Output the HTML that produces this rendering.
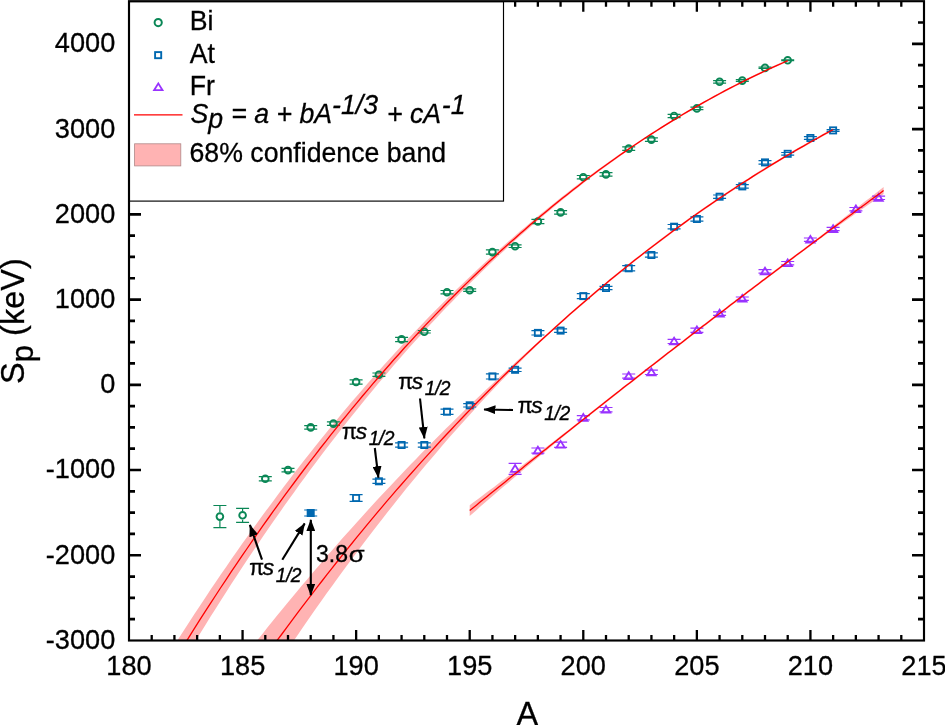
<!DOCTYPE html>
<html><head><meta charset="utf-8"><title>Sp vs A</title>
<style>html,body{margin:0;padding:0;background:#fff}svg{display:block}</style></head>
<body>
<svg width="945" height="725" viewBox="0 0 945 725" font-family="'Liberation Sans', sans-serif">
<rect width="945" height="725" fill="#fff"/>
<defs><clipPath id="pc"><rect x="129.0" y="1.2" width="795.0" height="639.3"/></clipPath>
<marker id="ah" viewBox="0 0 12 9" refX="11.5" refY="4.5" markerWidth="12" markerHeight="9" markerUnits="userSpaceOnUse" orient="auto-start-reverse"><path d="M0,0 L12,4.5 L0,9 Z" fill="#000"/></marker>
</defs>
<g clip-path="url(#pc)">
<polygon points="163.1,663.1 168.3,654.8 173.6,646.4 178.8,638.2 184.1,630.0 189.3,621.9 194.6,613.8 199.8,605.9 205.1,597.9 210.3,590.1 215.6,582.3 220.8,574.6 226.1,566.9 231.3,559.3 236.6,551.8 241.8,544.3 247.1,536.9 252.3,529.6 257.6,522.3 262.8,515.1 268.1,507.9 273.3,500.9 278.6,493.8 283.8,486.8 289.0,479.9 294.3,473.1 299.5,466.3 304.8,459.6 310.0,452.9 315.3,446.3 320.5,439.7 325.8,433.2 331.0,426.8 336.3,420.4 341.5,414.1 346.8,407.8 352.0,401.6 357.3,395.5 362.5,389.4 367.8,383.3 373.0,377.4 378.3,371.4 383.5,365.6 388.8,359.7 394.0,354.0 399.3,348.3 404.5,342.6 409.8,337.0 415.0,331.5 420.3,326.0 425.5,320.5 430.8,315.1 436.0,309.8 441.3,304.5 446.5,299.3 451.8,294.1 457.0,289.0 462.3,283.9 467.5,278.9 472.8,273.9 478.0,269.0 483.3,264.1 488.5,259.3 493.8,254.5 499.0,249.8 504.3,245.1 509.5,240.5 514.8,235.9 520.0,231.3 525.3,226.9 530.5,222.4 535.8,218.0 541.0,213.7 546.3,209.4 551.5,205.2 556.8,201.0 562.0,196.8 567.3,192.7 572.5,188.6 577.8,184.6 583.0,180.6 588.2,176.7 593.5,172.8 598.7,169.0 604.0,165.2 609.2,161.5 614.5,157.8 619.7,154.1 625.0,150.5 630.2,146.9 635.5,143.4 640.7,139.9 646.0,136.5 651.2,133.0 656.5,129.7 661.7,126.4 667.0,123.1 672.2,119.9 677.5,116.7 682.7,113.5 688.0,110.4 693.2,107.4 698.5,104.4 703.7,101.4 709.0,98.5 714.2,95.6 719.5,92.7 724.7,89.9 730.0,87.2 735.2,84.5 740.5,81.8 745.7,79.2 751.0,76.6 756.2,74.1 761.5,71.6 766.7,69.1 772.0,66.7 777.2,64.3 782.5,62.0 787.7,59.7 787.7,61.7 782.5,64.0 777.2,66.3 772.0,68.7 766.7,71.1 761.5,73.6 756.2,76.1 751.0,78.6 745.7,81.2 740.5,83.8 735.2,86.5 730.0,89.2 724.7,91.9 719.5,94.7 714.2,97.6 709.0,100.5 703.7,103.4 698.5,106.4 693.2,109.4 688.0,112.4 682.7,115.5 677.5,118.7 672.2,121.9 667.0,125.1 661.7,128.4 656.5,131.7 651.2,135.1 646.0,138.5 640.7,142.0 635.5,145.6 630.2,149.1 625.0,152.8 619.7,156.4 614.5,160.2 609.2,163.9 604.0,167.8 598.7,171.7 593.5,175.6 588.2,179.6 583.0,183.6 577.8,187.7 572.5,191.8 567.3,196.0 562.0,200.3 556.8,204.6 551.5,208.9 546.3,213.3 541.0,217.8 535.8,222.3 530.5,226.8 525.3,231.4 520.0,236.1 514.8,240.8 509.5,245.6 504.3,250.4 499.0,255.3 493.8,260.3 488.5,265.3 483.3,270.3 478.0,275.4 472.8,280.6 467.5,285.8 462.3,291.1 457.0,296.5 451.8,301.9 446.5,307.3 441.3,312.8 436.0,318.4 430.8,324.0 425.5,329.7 420.3,335.5 415.0,341.3 409.8,347.1 404.5,353.1 399.3,359.1 394.0,365.1 388.8,371.2 383.5,377.4 378.3,383.6 373.0,389.9 367.8,396.3 362.5,402.7 357.3,409.2 352.0,415.7 346.8,422.3 341.5,429.0 336.3,435.7 331.0,442.5 325.8,449.3 320.5,456.3 315.3,463.3 310.0,470.3 304.8,477.4 299.5,484.6 294.3,491.9 289.0,499.2 283.8,506.6 278.6,514.0 273.3,521.5 268.1,529.1 262.8,536.8 257.6,544.5 252.3,552.3 247.1,560.1 241.8,568.1 236.6,576.1 231.3,584.1 226.1,592.3 220.8,600.5 215.6,608.8 210.3,617.1 205.1,625.5 199.8,634.0 194.6,642.6 189.3,651.2 184.1,659.9 178.8,668.7 173.6,677.6 168.3,686.5 163.1,695.5" fill="#ffb3b3"/>
<polygon points="242.6,659.1 247.5,652.7 252.5,646.4 257.5,640.1 262.4,633.9 267.4,627.6 272.3,621.5 277.3,615.3 282.3,609.2 287.2,603.2 292.2,597.2 297.2,591.2 302.1,585.3 307.1,579.4 312.1,573.5 317.0,567.7 322.0,561.9 326.9,556.1 331.9,550.4 336.9,544.8 341.8,539.1 346.8,533.5 351.8,527.9 356.7,522.4 361.7,516.9 366.6,511.5 371.6,506.0 376.6,500.6 381.5,495.3 386.5,490.0 391.5,484.7 396.4,479.4 401.4,474.2 406.3,469.0 411.3,463.8 416.3,458.7 421.2,453.6 426.2,448.6 431.2,443.5 436.1,438.5 441.1,433.5 446.0,428.6 451.0,423.7 456.0,418.8 460.9,414.0 465.9,409.1 470.9,404.3 475.8,399.6 480.8,394.8 485.7,390.1 490.7,385.4 495.7,380.7 500.6,376.1 505.6,371.5 510.6,366.9 515.5,362.3 520.5,357.7 525.5,353.2 530.4,348.7 535.4,344.2 540.3,339.7 545.3,335.2 550.3,330.7 555.2,326.2 560.2,321.7 565.2,317.3 570.1,312.9 575.1,308.6 580.0,304.3 585.0,300.0 590.0,295.7 594.9,291.5 599.9,287.4 604.9,283.2 609.8,279.1 614.8,275.0 619.7,271.0 624.7,267.0 629.7,263.1 634.6,259.1 639.6,255.2 644.6,251.4 649.5,247.5 654.5,243.7 659.4,240.0 664.4,236.3 669.4,232.6 674.3,228.9 679.3,225.3 684.3,221.7 689.2,218.1 694.2,214.6 699.1,211.1 704.1,207.6 709.1,204.2 714.0,200.8 719.0,197.4 724.0,194.1 728.9,190.8 733.9,187.5 738.8,184.2 743.8,181.0 748.8,177.9 753.7,174.7 758.7,171.6 763.7,168.5 768.6,165.4 773.6,162.4 778.6,159.4 783.5,156.4 788.5,153.5 793.4,150.6 798.4,147.7 803.4,144.9 808.3,142.0 813.3,139.2 818.3,136.5 823.2,133.7 828.2,131.0 833.1,128.4 833.1,130.8 828.2,133.4 823.2,136.1 818.3,138.9 813.3,141.6 808.3,144.4 803.4,147.3 798.4,150.1 793.4,153.0 788.5,155.9 783.5,158.8 778.6,161.8 773.6,164.8 768.6,167.8 763.7,170.9 758.7,174.0 753.7,177.1 748.8,180.3 743.8,183.4 738.8,186.6 733.9,189.9 728.9,193.2 724.0,196.5 719.0,199.8 714.0,203.2 709.1,206.6 704.1,210.0 699.1,213.5 694.2,217.0 689.2,220.5 684.3,224.1 679.3,227.7 674.3,231.3 669.4,235.0 664.4,238.7 659.4,242.4 654.5,246.1 649.5,249.9 644.6,253.8 639.6,257.6 634.6,261.5 629.7,265.5 624.7,269.4 619.7,273.4 614.8,277.4 609.8,281.5 604.9,285.6 599.9,289.8 594.9,293.9 590.0,298.1 585.0,302.4 580.0,306.7 575.1,311.0 570.1,315.3 565.2,319.7 560.2,324.1 555.2,328.6 550.3,333.1 545.3,337.6 540.3,342.3 535.4,347.0 530.4,351.8 525.5,356.6 520.5,361.5 515.5,366.5 510.6,371.5 505.6,376.5 500.6,381.6 495.7,386.8 490.7,392.0 485.7,397.3 480.8,402.6 475.8,408.0 470.9,413.4 465.9,418.9 460.9,424.4 456.0,430.0 451.0,435.6 446.0,441.3 441.1,447.1 436.1,452.9 431.2,458.7 426.2,464.6 421.2,470.5 416.3,476.5 411.3,482.5 406.3,488.6 401.4,494.8 396.4,501.0 391.5,507.2 386.5,513.5 381.5,519.9 376.6,526.3 371.6,532.7 366.6,539.2 361.7,545.8 356.7,552.4 351.8,559.0 346.8,565.7 341.8,572.5 336.9,579.3 331.9,586.2 326.9,593.1 322.0,600.0 317.0,607.1 312.1,614.1 307.1,621.3 302.1,628.5 297.2,635.7 292.2,643.0 287.2,650.3 282.3,657.7 277.3,665.2 272.3,672.7 267.4,680.2 262.4,687.8 257.5,695.5 252.5,703.2 247.5,711.0 242.6,718.8" fill="#ffb3b3"/>
<polygon points="469.7,505.2 473.2,502.6 476.7,500.0 480.1,497.4 483.6,494.8 487.1,492.1 490.6,489.5 494.1,486.9 497.5,484.2 501.0,481.6 504.5,479.0 508.0,476.3 511.4,473.7 514.9,471.0 518.4,468.4 521.9,465.7 525.4,463.1 528.8,460.4 532.3,457.7 535.8,455.1 539.3,452.4 542.7,449.7 546.2,447.0 549.7,444.4 553.2,441.7 556.7,439.0 560.1,436.3 563.6,433.6 567.1,430.9 570.6,428.2 574.0,425.5 577.5,422.7 581.0,420.0 584.5,417.3 588.0,414.5 591.4,411.8 594.9,409.0 598.4,406.3 601.9,403.5 605.3,400.8 608.8,398.1 612.3,395.3 615.8,392.6 619.3,389.9 622.7,387.1 626.2,384.4 629.7,381.7 633.2,379.0 636.6,376.3 640.1,373.6 643.6,370.8 647.1,368.1 650.6,365.4 654.0,362.7 657.5,360.0 661.0,357.3 664.5,354.6 667.9,351.9 671.4,349.2 674.9,346.6 678.4,343.9 681.9,341.2 685.3,338.5 688.8,335.8 692.3,333.1 695.8,330.5 699.2,327.8 702.7,325.1 706.2,322.5 709.7,319.8 713.2,317.1 716.6,314.5 720.1,311.8 723.6,309.2 727.1,306.5 730.5,303.8 734.0,301.2 737.5,298.6 741.0,295.9 744.5,293.3 747.9,290.6 751.4,288.0 754.9,285.4 758.4,282.7 761.8,280.1 765.3,277.5 768.8,274.8 772.3,272.2 775.8,269.6 779.2,267.0 782.7,264.3 786.2,261.7 789.7,259.1 793.1,256.5 796.6,253.9 800.1,251.3 803.6,248.7 807.1,246.1 810.5,243.5 814.0,240.9 817.5,238.2 821.0,235.5 824.4,232.9 827.9,230.2 831.4,227.5 834.9,224.8 838.4,222.1 841.8,219.4 845.3,216.8 848.8,214.1 852.3,211.4 855.7,208.7 859.2,206.0 862.7,203.3 866.2,200.6 869.7,197.9 873.1,195.2 876.6,192.5 880.1,189.8 883.6,187.1 883.6,194.1 880.1,196.5 876.6,198.9 873.1,201.4 869.7,203.8 866.2,206.2 862.7,208.7 859.2,211.1 855.7,213.5 852.3,216.0 848.8,218.4 845.3,220.9 841.8,223.4 838.4,225.8 834.9,228.3 831.4,230.8 827.9,233.3 824.4,235.8 821.0,238.3 817.5,240.8 814.0,243.3 810.5,245.9 807.1,248.5 803.6,251.1 800.1,253.7 796.6,256.3 793.1,258.9 789.7,261.5 786.2,264.1 782.7,266.7 779.2,269.4 775.8,272.0 772.3,274.6 768.8,277.2 765.3,279.9 761.8,282.5 758.4,285.1 754.9,287.8 751.4,290.4 747.9,293.0 744.5,295.7 741.0,298.3 737.5,301.0 734.0,303.6 730.5,306.2 727.1,308.9 723.6,311.6 720.1,314.2 716.6,316.9 713.2,319.5 709.7,322.2 706.2,324.9 702.7,327.5 699.2,330.2 695.8,332.9 692.3,335.5 688.8,338.2 685.3,340.9 681.9,343.6 678.4,346.3 674.9,349.0 671.4,351.6 667.9,354.3 664.5,357.0 661.0,359.7 657.5,362.4 654.0,365.1 650.6,367.8 647.1,370.5 643.6,373.2 640.1,376.0 636.6,378.7 633.2,381.4 629.7,384.1 626.2,386.8 622.7,389.5 619.3,392.3 615.8,395.0 612.3,397.7 608.8,400.5 605.3,403.2 601.9,405.9 598.4,408.7 594.9,411.4 591.4,414.2 588.0,416.9 584.5,419.7 581.0,422.4 577.5,425.2 574.0,428.0 570.6,430.8 567.1,433.6 563.6,436.4 560.1,439.2 556.7,442.1 553.2,444.9 549.7,447.8 546.2,450.7 542.7,453.6 539.3,456.5 535.8,459.4 532.3,462.3 528.8,465.2 525.4,468.1 521.9,471.0 518.4,474.0 514.9,476.9 511.4,479.9 508.0,482.9 504.5,485.8 501.0,488.8 497.5,491.8 494.1,494.8 490.6,497.8 487.1,500.8 483.6,503.8 480.1,506.8 476.7,509.9 473.2,512.9 469.7,516.0" fill="#ffb3b3"/>
</g>
<path d="M219.9,505.5V512.2M219.9,521.0V527.6M213.4,505.5h13M213.4,527.6h13M242.6,508.3V510.9M242.6,519.7V522.3M236.1,508.3h13M236.1,522.3h13M258.8,476.6h13M258.8,480.8h13M281.5,468.4h13M281.5,471.8h13M304.2,425.7h13M304.2,429.1h13M326.9,421.9h13M326.9,425.4h13M349.6,379.8h13M349.6,384.1h13M372.4,373.0h13M372.4,376.4h13M395.1,337.3h13M395.1,341.6h13M417.8,330.5h13M417.8,333.0h13M440.5,290.5h13M440.5,293.9h13M463.2,288.9h13M463.2,291.4h13M485.9,249.9h13M485.9,254.2h13M508.6,244.9h13M508.6,247.5h13M531.4,219.4h13M531.4,223.7h13M554.1,210.7h13M554.1,214.1h13M576.8,175.5h13M576.8,178.9h13M599.5,172.7h13M599.5,176.1h13M622.2,146.9h13M622.2,150.3h13M644.9,137.9h13M644.9,141.3h13M667.6,114.3h13M667.6,117.7h13M690.4,107.2h13M690.4,109.7h13M713.1,80.6h13M713.1,83.1h13M735.8,79.7h13M735.8,81.4h13M758.5,67.2h13M758.5,68.5h13M781.2,59.8h13M781.2,60.7h13" stroke="#0a8756" stroke-width="1.2" fill="none"/>
<path d="M304.2,510.0h13M304.2,516.0h13M349.6,494.6h13M349.6,501.4h13M372.4,479.1h13M372.4,483.4h13M395.1,442.8h13M395.1,447.1h13M417.8,442.8h13M417.8,447.1h13M440.5,409.2h13M440.5,414.3h13M463.2,403.6h13M463.2,407.0h13M485.9,373.9h13M485.9,379.0h13M508.6,368.1h13M508.6,371.5h13M531.4,330.7h13M531.4,335.0h13M554.1,328.9h13M554.1,332.3h13M576.8,293.6h13M576.8,298.7h13M599.5,286.3h13M599.5,289.7h13M622.2,265.7h13M622.2,270.8h13M644.9,252.9h13M644.9,257.2h13M667.6,224.5h13M667.6,228.8h13M690.4,216.9h13M690.4,221.1h13M713.1,195.0h13M713.1,198.4h13M735.8,184.7h13M735.8,188.1h13M758.5,160.7h13M758.5,164.1h13M781.2,152.5h13M781.2,155.1h13M803.9,136.7h13M803.9,139.3h13M826.6,129.6h13M826.6,131.3h13" stroke="#0068b0" stroke-width="1.2" fill="none"/>
<path d="M515.1,472.0V474.4M508.6,463.3h13M508.6,474.4h13M531.4,448.0h13M531.4,453.1h13M554.1,442.1h13M554.1,447.3h13M576.8,415.6h13M576.8,419.9h13M599.5,407.5h13M599.5,411.8h13M622.2,374.0h13M622.2,378.2h13M644.9,370.2h13M644.9,374.5h13M667.6,339.3h13M667.6,343.5h13M690.4,328.1h13M690.4,332.4h13M713.1,311.9h13M713.1,315.3h13M735.8,297.0h13M735.8,300.4h13M758.5,269.7h13M758.5,273.1h13M781.2,261.5h13M781.2,264.9h13M803.9,238.0h13M803.9,241.4h13M826.6,227.3h13M826.6,230.7h13M849.4,207.5h13M849.4,210.9h13M872.1,196.1h13M872.1,199.5h13" stroke="#9933ff" stroke-width="1.2" fill="none"/>
<circle cx="219.9" cy="516.6" r="3.35" fill="none" stroke="#0a8756" stroke-width="1.9"/>
<circle cx="242.6" cy="515.3" r="3.35" fill="none" stroke="#0a8756" stroke-width="1.9"/>
<circle cx="265.3" cy="478.7" r="3.35" fill="none" stroke="#0a8756" stroke-width="1.9"/>
<circle cx="288.0" cy="470.1" r="3.35" fill="none" stroke="#0a8756" stroke-width="1.9"/>
<circle cx="310.7" cy="427.4" r="3.35" fill="none" stroke="#0a8756" stroke-width="1.9"/>
<circle cx="333.4" cy="423.6" r="3.35" fill="none" stroke="#0a8756" stroke-width="1.9"/>
<circle cx="356.1" cy="382.0" r="3.35" fill="none" stroke="#0a8756" stroke-width="1.9"/>
<circle cx="378.9" cy="374.7" r="3.35" fill="none" stroke="#0a8756" stroke-width="1.9"/>
<circle cx="401.6" cy="339.4" r="3.35" fill="none" stroke="#0a8756" stroke-width="1.9"/>
<circle cx="424.3" cy="331.8" r="3.35" fill="none" stroke="#0a8756" stroke-width="1.9"/>
<circle cx="447.0" cy="292.2" r="3.35" fill="none" stroke="#0a8756" stroke-width="1.9"/>
<circle cx="469.7" cy="290.2" r="3.35" fill="none" stroke="#0a8756" stroke-width="1.9"/>
<circle cx="492.4" cy="252.1" r="3.35" fill="none" stroke="#0a8756" stroke-width="1.9"/>
<circle cx="515.1" cy="246.2" r="3.35" fill="none" stroke="#0a8756" stroke-width="1.9"/>
<circle cx="537.9" cy="221.5" r="3.35" fill="none" stroke="#0a8756" stroke-width="1.9"/>
<circle cx="560.6" cy="212.4" r="3.35" fill="none" stroke="#0a8756" stroke-width="1.9"/>
<circle cx="583.3" cy="177.2" r="3.35" fill="none" stroke="#0a8756" stroke-width="1.9"/>
<circle cx="606.0" cy="174.4" r="3.35" fill="none" stroke="#0a8756" stroke-width="1.9"/>
<circle cx="628.7" cy="148.6" r="3.35" fill="none" stroke="#0a8756" stroke-width="1.9"/>
<circle cx="651.4" cy="139.6" r="3.35" fill="none" stroke="#0a8756" stroke-width="1.9"/>
<circle cx="674.1" cy="116.0" r="3.35" fill="none" stroke="#0a8756" stroke-width="1.9"/>
<circle cx="696.9" cy="108.4" r="3.35" fill="none" stroke="#0a8756" stroke-width="1.9"/>
<circle cx="719.6" cy="81.8" r="3.35" fill="none" stroke="#0a8756" stroke-width="1.9"/>
<circle cx="742.3" cy="80.6" r="3.35" fill="none" stroke="#0a8756" stroke-width="1.9"/>
<circle cx="765.0" cy="67.9" r="3.35" fill="none" stroke="#0a8756" stroke-width="1.9"/>
<circle cx="787.7" cy="60.3" r="3.35" fill="none" stroke="#0a8756" stroke-width="1.9"/>
<rect x="306.7" y="509.0" width="8" height="8" fill="#0068b0"/>
<rect x="353.0" y="494.9" width="6.2" height="6.2" fill="none" stroke="#0068b0" stroke-width="1.8"/>
<rect x="375.8" y="478.2" width="6.2" height="6.2" fill="none" stroke="#0068b0" stroke-width="1.8"/>
<rect x="398.5" y="441.9" width="6.2" height="6.2" fill="none" stroke="#0068b0" stroke-width="1.8"/>
<rect x="421.2" y="441.9" width="6.2" height="6.2" fill="none" stroke="#0068b0" stroke-width="1.8"/>
<rect x="443.9" y="408.6" width="6.2" height="6.2" fill="none" stroke="#0068b0" stroke-width="1.8"/>
<rect x="466.6" y="402.2" width="6.2" height="6.2" fill="none" stroke="#0068b0" stroke-width="1.8"/>
<rect x="489.3" y="373.3" width="6.2" height="6.2" fill="none" stroke="#0068b0" stroke-width="1.8"/>
<rect x="512.0" y="366.7" width="6.2" height="6.2" fill="none" stroke="#0068b0" stroke-width="1.8"/>
<rect x="534.8" y="329.8" width="6.2" height="6.2" fill="none" stroke="#0068b0" stroke-width="1.8"/>
<rect x="557.5" y="327.5" width="6.2" height="6.2" fill="none" stroke="#0068b0" stroke-width="1.8"/>
<rect x="580.2" y="293.0" width="6.2" height="6.2" fill="none" stroke="#0068b0" stroke-width="1.8"/>
<rect x="602.9" y="284.9" width="6.2" height="6.2" fill="none" stroke="#0068b0" stroke-width="1.8"/>
<rect x="625.6" y="265.2" width="6.2" height="6.2" fill="none" stroke="#0068b0" stroke-width="1.8"/>
<rect x="648.3" y="251.9" width="6.2" height="6.2" fill="none" stroke="#0068b0" stroke-width="1.8"/>
<rect x="671.0" y="223.6" width="6.2" height="6.2" fill="none" stroke="#0068b0" stroke-width="1.8"/>
<rect x="693.8" y="215.9" width="6.2" height="6.2" fill="none" stroke="#0068b0" stroke-width="1.8"/>
<rect x="716.5" y="193.6" width="6.2" height="6.2" fill="none" stroke="#0068b0" stroke-width="1.8"/>
<rect x="739.2" y="183.3" width="6.2" height="6.2" fill="none" stroke="#0068b0" stroke-width="1.8"/>
<rect x="761.9" y="159.3" width="6.2" height="6.2" fill="none" stroke="#0068b0" stroke-width="1.8"/>
<rect x="784.6" y="150.7" width="6.2" height="6.2" fill="none" stroke="#0068b0" stroke-width="1.8"/>
<rect x="807.3" y="134.9" width="6.2" height="6.2" fill="none" stroke="#0068b0" stroke-width="1.8"/>
<rect x="830.0" y="127.3" width="6.2" height="6.2" fill="none" stroke="#0068b0" stroke-width="1.8"/>
<path d="M515.1,465.0L519.3,471.8H510.9Z" fill="none" stroke="#9933ff" stroke-width="1.8" stroke-linejoin="miter"/>
<path d="M537.9,446.8L542.1,453.6H533.7Z" fill="none" stroke="#9933ff" stroke-width="1.8" stroke-linejoin="miter"/>
<path d="M560.6,440.9L564.8,447.7H556.4Z" fill="none" stroke="#9933ff" stroke-width="1.8" stroke-linejoin="miter"/>
<path d="M583.3,414.0L587.5,420.8H579.1Z" fill="none" stroke="#9933ff" stroke-width="1.8" stroke-linejoin="miter"/>
<path d="M606.0,405.9L610.2,412.7H601.8Z" fill="none" stroke="#9933ff" stroke-width="1.8" stroke-linejoin="miter"/>
<path d="M628.7,372.3L632.9,379.1H624.5Z" fill="none" stroke="#9933ff" stroke-width="1.8" stroke-linejoin="miter"/>
<path d="M651.4,368.5L655.6,375.3H647.2Z" fill="none" stroke="#9933ff" stroke-width="1.8" stroke-linejoin="miter"/>
<path d="M674.1,337.6L678.3,344.4H669.9Z" fill="none" stroke="#9933ff" stroke-width="1.8" stroke-linejoin="miter"/>
<path d="M696.9,326.4L701.1,333.2H692.7Z" fill="none" stroke="#9933ff" stroke-width="1.8" stroke-linejoin="miter"/>
<path d="M719.6,309.8L723.8,316.6H715.4Z" fill="none" stroke="#9933ff" stroke-width="1.8" stroke-linejoin="miter"/>
<path d="M742.3,294.9L746.5,301.7H738.1Z" fill="none" stroke="#9933ff" stroke-width="1.8" stroke-linejoin="miter"/>
<path d="M765.0,267.6L769.2,274.4H760.8Z" fill="none" stroke="#9933ff" stroke-width="1.8" stroke-linejoin="miter"/>
<path d="M787.7,259.4L791.9,266.2H783.5Z" fill="none" stroke="#9933ff" stroke-width="1.8" stroke-linejoin="miter"/>
<path d="M810.4,235.9L814.6,242.7H806.2Z" fill="none" stroke="#9933ff" stroke-width="1.8" stroke-linejoin="miter"/>
<path d="M833.1,225.2L837.3,232.0H828.9Z" fill="none" stroke="#9933ff" stroke-width="1.8" stroke-linejoin="miter"/>
<path d="M855.9,205.4L860.1,212.2H851.7Z" fill="none" stroke="#9933ff" stroke-width="1.8" stroke-linejoin="miter"/>
<path d="M878.6,194.0L882.8,200.8H874.4Z" fill="none" stroke="#9933ff" stroke-width="1.8" stroke-linejoin="miter"/>
<g clip-path="url(#pc)">
<polyline points="163.1,679.3 168.3,670.6 173.6,662.0 178.8,653.5 184.1,645.0 189.3,636.6 194.6,628.2 199.8,619.9 205.1,611.7 210.3,603.6 215.6,595.5 220.8,587.5 226.1,579.6 231.3,571.7 236.6,563.9 241.8,556.2 247.1,548.5 252.3,540.9 257.6,533.4 262.8,525.9 268.1,518.5 273.3,511.2 278.6,503.9 283.8,496.7 289.0,489.6 294.3,482.5 299.5,475.5 304.8,468.5 310.0,461.6 315.3,454.8 320.5,448.0 325.8,441.3 331.0,434.6 336.3,428.1 341.5,421.5 346.8,415.1 352.0,408.7 357.3,402.3 362.5,396.0 367.8,389.8 373.0,383.6 378.3,377.5 383.5,371.5 388.8,365.5 394.0,359.5 399.3,353.7 404.5,347.8 409.8,342.1 415.0,336.4 420.3,330.7 425.5,325.1 430.8,319.6 436.0,314.1 441.3,308.7 446.5,303.3 451.8,298.0 457.0,292.7 462.3,287.5 467.5,282.4 472.8,277.3 478.0,272.2 483.3,267.2 488.5,262.3 493.8,257.4 499.0,252.6 504.3,247.8 509.5,243.0 514.8,238.4 520.0,233.7 525.3,229.2 530.5,224.6 535.8,220.2 541.0,215.7 546.3,211.4 551.5,207.0 556.8,202.8 562.0,198.5 567.3,194.4 572.5,190.2 577.8,186.2 583.0,182.1 588.2,178.1 593.5,174.2 598.7,170.3 604.0,166.5 609.2,162.7 614.5,159.0 619.7,155.3 625.0,151.6 630.2,148.0 635.5,144.5 640.7,141.0 646.0,137.5 651.2,134.1 656.5,130.7 661.7,127.4 667.0,124.1 672.2,120.9 677.5,117.7 682.7,114.5 688.0,111.4 693.2,108.4 698.5,105.4 703.7,102.4 709.0,99.5 714.2,96.6 719.5,93.7 724.7,90.9 730.0,88.2 735.2,85.5 740.5,82.8 745.7,80.2 751.0,77.6 756.2,75.1 761.5,72.6 766.7,70.1 772.0,67.7 777.2,65.3 782.5,63.0 787.7,60.7" fill="none" stroke="#ff0000" stroke-width="1.3"/>
<polyline points="242.6,689.0 247.5,681.9 252.5,674.8 257.5,667.8 262.4,660.8 267.4,653.9 272.3,647.1 277.3,640.2 282.3,633.5 287.2,626.8 292.2,620.1 297.2,613.4 302.1,606.9 307.1,600.3 312.1,593.8 317.0,587.4 322.0,581.0 326.9,574.6 331.9,568.3 336.9,562.0 341.8,555.8 346.8,549.6 351.8,543.5 356.7,537.4 361.7,531.3 366.6,525.3 371.6,519.4 376.6,513.4 381.5,507.6 386.5,501.7 391.5,495.9 396.4,490.2 401.4,484.5 406.3,478.8 411.3,473.2 416.3,467.6 421.2,462.1 426.2,456.6 431.2,451.1 436.1,445.7 441.1,440.3 446.0,435.0 451.0,429.7 456.0,424.4 460.9,419.2 465.9,414.0 470.9,408.9 475.8,403.8 480.8,398.7 485.7,393.7 490.7,388.7 495.7,383.8 500.6,378.9 505.6,374.0 510.6,369.2 515.5,364.4 520.5,359.6 525.5,354.9 530.4,350.2 535.4,345.6 540.3,341.0 545.3,336.4 550.3,331.9 555.2,327.4 560.2,322.9 565.2,318.5 570.1,314.1 575.1,309.8 580.0,305.5 585.0,301.2 590.0,296.9 594.9,292.7 599.9,288.6 604.9,284.4 609.8,280.3 614.8,276.2 619.7,272.2 624.7,268.2 629.7,264.3 634.6,260.3 639.6,256.4 644.6,252.6 649.5,248.7 654.5,244.9 659.4,241.2 664.4,237.5 669.4,233.8 674.3,230.1 679.3,226.5 684.3,222.9 689.2,219.3 694.2,215.8 699.1,212.3 704.1,208.8 709.1,205.4 714.0,202.0 719.0,198.6 724.0,195.3 728.9,192.0 733.9,188.7 738.8,185.4 743.8,182.2 748.8,179.1 753.7,175.9 758.7,172.8 763.7,169.7 768.6,166.6 773.6,163.6 778.6,160.6 783.5,157.6 788.5,154.7 793.4,151.8 798.4,148.9 803.4,146.1 808.3,143.2 813.3,140.4 818.3,137.7 823.2,134.9 828.2,132.2 833.1,129.6" fill="none" stroke="#ff0000" stroke-width="1.3"/>
<polyline points="469.7,510.6 473.2,507.8 476.7,504.9 480.1,502.1 483.6,499.3 487.1,496.5 490.6,493.6 494.1,490.8 497.5,488.0 501.0,485.2 504.5,482.4 508.0,479.6 511.4,476.8 514.9,474.0 518.4,471.2 521.9,468.4 525.4,465.6 528.8,462.8 532.3,460.0 535.8,457.2 539.3,454.4 542.7,451.6 546.2,448.9 549.7,446.1 553.2,443.3 556.7,440.5 560.1,437.8 563.6,435.0 567.1,432.2 570.6,429.5 574.0,426.7 577.5,424.0 581.0,421.2 584.5,418.5 588.0,415.7 591.4,413.0 594.9,410.2 598.4,407.5 601.9,404.7 605.3,402.0 608.8,399.3 612.3,396.5 615.8,393.8 619.3,391.1 622.7,388.3 626.2,385.6 629.7,382.9 633.2,380.2 636.6,377.5 640.1,374.8 643.6,372.0 647.1,369.3 650.6,366.6 654.0,363.9 657.5,361.2 661.0,358.5 664.5,355.8 667.9,353.1 671.4,350.4 674.9,347.8 678.4,345.1 681.9,342.4 685.3,339.7 688.8,337.0 692.3,334.3 695.8,331.7 699.2,329.0 702.7,326.3 706.2,323.7 709.7,321.0 713.2,318.3 716.6,315.7 720.1,313.0 723.6,310.4 727.1,307.7 730.5,305.0 734.0,302.4 737.5,299.8 741.0,297.1 744.5,294.5 747.9,291.8 751.4,289.2 754.9,286.6 758.4,283.9 761.8,281.3 765.3,278.7 768.8,276.0 772.3,273.4 775.8,270.8 779.2,268.2 782.7,265.5 786.2,262.9 789.7,260.3 793.1,257.7 796.6,255.1 800.1,252.5 803.6,249.9 807.1,247.3 810.5,244.7 814.0,242.1 817.5,239.5 821.0,236.9 824.4,234.3 827.9,231.7 831.4,229.1 834.9,226.6 838.4,224.0 841.8,221.4 845.3,218.8 848.8,216.3 852.3,213.7 855.7,211.1 859.2,208.5 862.7,206.0 866.2,203.4 869.7,200.8 873.1,198.3 876.6,195.7 880.1,193.2 883.6,190.6" fill="none" stroke="#ff0000" stroke-width="1.3"/>
</g>
<rect x="129" y="1.6" width="374.5" height="199.5" fill="#fff" stroke="#000" stroke-width="1.15"/>
<circle cx="158.2" cy="22.6" r="3.6" fill="none" stroke="#0a8756" stroke-width="2"/>
<rect x="155.1" y="52.1" width="6.1" height="6.1" fill="none" stroke="#0068b0" stroke-width="1.9"/>
<path d="M158.3,83.4L162.5,90.2H154.1Z" fill="none" stroke="#9933ff" stroke-width="1.8" stroke-linejoin="miter"/>
<line x1="134" y1="114.8" x2="182.5" y2="114.8" stroke="#ff0000" stroke-width="1.3"/>
<rect x="134.6" y="143.8" width="46.2" height="22.1" fill="#ffb3b3" stroke="#b08888" stroke-width="0.8"/>
<g font-size="27.8" fill="#000" stroke="#000" stroke-width="0.3">
<text transform="translate(189.8,29.7) scale(0.96,1)">Bi</text>
<text transform="translate(189.8,62.6) scale(0.96,1)">At</text>
<text transform="translate(189.8,95) scale(0.96,1)">Fr</text>
<text transform="translate(190.4,122.6) scale(0.96,1)" font-style="italic">S<tspan dy="5.6">p</tspan><tspan dy="-5.6" dx="0.85"> = a + bA</tspan><tspan dy="-9">-1/3</tspan><tspan dy="9" dx="1.5"> + cA</tspan><tspan dy="-9" dx="0.75">-1</tspan></text>
<text transform="translate(189.5,161.9) scale(0.96,1)">68% confidence band</text>
</g>
<g stroke="#000" fill="none">
<rect x="129.0" y="1.2" width="795.0" height="639.3" stroke-width="2.15"/>
<path d="M151.71,640.5v-5.5M174.43,640.5v-5.5M197.14,640.5v-5.5M219.86,640.5v-5.5M242.57,640.5v-10.5M265.29,640.5v-5.5M288.00,640.5v-5.5M310.71,640.5v-5.5M333.43,640.5v-5.5M356.14,640.5v-10.5M378.86,640.5v-5.5M401.57,640.5v-5.5M424.29,640.5v-5.5M447.00,640.5v-5.5M469.71,640.5v-10.5M492.43,640.5v-5.5M515.14,640.5v-5.5M515.14,1.2v5.5M537.86,640.5v-5.5M537.86,1.2v5.5M560.57,640.5v-5.5M560.57,1.2v5.5M583.29,640.5v-10.5M583.29,1.2v10.5M606.00,640.5v-5.5M606.00,1.2v5.5M628.71,640.5v-5.5M628.71,1.2v5.5M651.43,640.5v-5.5M651.43,1.2v5.5M674.14,640.5v-5.5M674.14,1.2v5.5M696.86,640.5v-10.5M696.86,1.2v10.5M719.57,640.5v-5.5M719.57,1.2v5.5M742.29,640.5v-5.5M742.29,1.2v5.5M765.00,640.5v-5.5M765.00,1.2v5.5M787.71,640.5v-5.5M787.71,1.2v5.5M810.43,640.5v-10.5M810.43,1.2v10.5M833.14,640.5v-5.5M833.14,1.2v5.5M855.86,640.5v-5.5M855.86,1.2v5.5M878.57,640.5v-5.5M878.57,1.2v5.5M901.29,640.5v-5.5M901.29,1.2v5.5" stroke-width="2.3"/>
<path d="M129.0,619.19h6M924.0,619.19h-6M129.0,597.88h6M924.0,597.88h-6M129.0,576.57h6M924.0,576.57h-6M129.0,555.26h12M924.0,555.26h-12M129.0,533.95h6M924.0,533.95h-6M129.0,512.64h6M924.0,512.64h-6M129.0,491.33h6M924.0,491.33h-6M129.0,470.02h12M924.0,470.02h-12M129.0,448.71h6M924.0,448.71h-6M129.0,427.40h6M924.0,427.40h-6M129.0,406.09h6M924.0,406.09h-6M129.0,384.78h12M924.0,384.78h-12M129.0,363.47h6M924.0,363.47h-6M129.0,342.16h6M924.0,342.16h-6M129.0,320.85h6M924.0,320.85h-6M129.0,299.54h12M924.0,299.54h-12M129.0,278.23h6M924.0,278.23h-6M129.0,256.92h6M924.0,256.92h-6M129.0,235.61h6M924.0,235.61h-6M129.0,214.30h12M924.0,214.30h-12M924.0,192.99h-6M924.0,171.68h-6M924.0,150.37h-6M924.0,129.06h-12M924.0,107.75h-6M924.0,86.44h-6M924.0,65.13h-6M924.0,43.82h-12M924.0,22.51h-6" stroke-width="2.7"/>
</g>
<g font-size="28.3" fill="#000" stroke="#000" stroke-width="0.3">
<text transform="translate(129.0,675.4) scale(0.961,1)" text-anchor="middle">180</text>
<text transform="translate(242.6,675.4) scale(0.961,1)" text-anchor="middle">185</text>
<text transform="translate(356.1,675.4) scale(0.961,1)" text-anchor="middle">190</text>
<text transform="translate(469.7,675.4) scale(0.961,1)" text-anchor="middle">195</text>
<text transform="translate(583.3,675.4) scale(0.961,1)" text-anchor="middle">200</text>
<text transform="translate(696.9,675.4) scale(0.961,1)" text-anchor="middle">205</text>
<text transform="translate(810.4,675.4) scale(0.961,1)" text-anchor="middle">210</text>
<text transform="translate(924.0,675.4) scale(0.961,1)" text-anchor="middle">215</text>
<text transform="translate(115.3,648.9) scale(0.961,1)" text-anchor="end">-3000</text>
<text transform="translate(115.3,563.7) scale(0.961,1)" text-anchor="end">-2000</text>
<text transform="translate(115.3,478.4) scale(0.961,1)" text-anchor="end">-1000</text>
<text transform="translate(115.3,393.2) scale(0.961,1)" text-anchor="end">0</text>
<text transform="translate(115.3,307.9) scale(0.961,1)" text-anchor="end">1000</text>
<text transform="translate(115.3,222.7) scale(0.961,1)" text-anchor="end">2000</text>
<text transform="translate(115.3,137.5) scale(0.961,1)" text-anchor="end">3000</text>
<text transform="translate(115.3,52.2) scale(0.961,1)" text-anchor="end">4000</text>
</g>
<text transform="translate(527.3,725.3) scale(0.97,1)" font-size="33.5" text-anchor="middle" stroke="#000" stroke-width="0.3">A</text>
<text transform="translate(23.6,383.9) rotate(-90)" font-size="32.5" stroke="#000" stroke-width="0.3">S<tspan font-size="31" dy="9.3">p</tspan><tspan dy="-9.3" dx="0"> (keV)</tspan></text>
<text x="398.2" y="389" font-size="21.5" stroke="#000" stroke-width="0.35">π<tspan font-style="italic" font-size="22.8" dx="-1.3">s</tspan><tspan font-style="italic" font-size="19.3" letter-spacing="-0.5" dx="1.6" dy="6.2">1/2</tspan></text>
<text x="342.1" y="438.6" font-size="21.5" stroke="#000" stroke-width="0.35">π<tspan font-style="italic" font-size="22.8" dx="-1.3">s</tspan><tspan font-style="italic" font-size="19.3" letter-spacing="-0.5" dx="1.6" dy="6.2">1/2</tspan></text>
<text x="517.8" y="413.3" font-size="21.5" stroke="#000" stroke-width="0.35">π<tspan font-style="italic" font-size="22.8" dx="-1.3">s</tspan><tspan font-style="italic" font-size="19.3" letter-spacing="-0.5" dx="1.6" dy="6.2">1/2</tspan></text>
<text x="249.2" y="575.3" font-size="21.5" stroke="#000" stroke-width="0.35">π<tspan font-style="italic" font-size="22.8" dx="-1.3">s</tspan><tspan font-style="italic" font-size="19.3" letter-spacing="-0.5" dx="1.6" dy="6.2">1/2</tspan></text>
<text x="316" y="561.6" font-size="23" stroke="#000" stroke-width="0.3">3.8</text>
<text transform="translate(348.8,561.6) scale(1.12,0.93)" font-size="23" stroke="#000" stroke-width="0.3">σ</text>
<g stroke="#000" stroke-width="2.1" fill="none">
<line x1="420" y1="398.5" x2="424.4" y2="438.4" marker-end="url(#ah)"/>
<line x1="374.8" y1="448" x2="378.4" y2="477.7" marker-end="url(#ah)"/>
<line x1="513" y1="410" x2="484" y2="409.5" marker-end="url(#ah)"/>
<line x1="262" y1="559.7" x2="249.9" y2="524.9" marker-end="url(#ah)"/>
<line x1="282.3" y1="559.7" x2="304.7" y2="523.4" marker-end="url(#ah)"/>
<line x1="310.8" y1="595.2" x2="310.8" y2="519.8" marker-end="url(#ah)" marker-start="url(#ah)"/>
</g>
</svg>
</body></html>
